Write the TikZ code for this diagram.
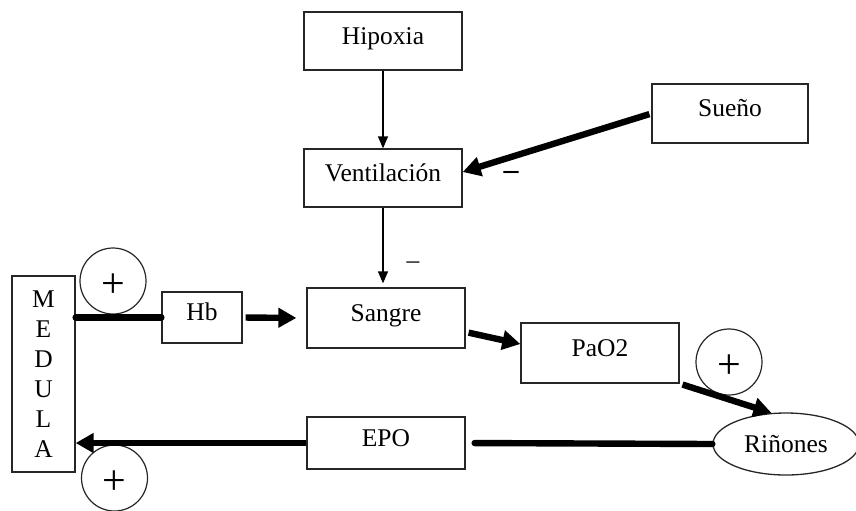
\documentclass[tikz,border=0pt]{standalone}
\usepackage{fontspec}
\setmainfont{Liberation Serif}
\usetikzlibrary{arrows.meta,shapes.geometric,calc}
\begin{document}
\begin{tikzpicture}[x=0.5pt,y=-0.5pt,
  font=\fontsize{12.75}{15}\selectfont,
  box/.style={draw=black!85, line width=0.65pt, inner sep=0pt, text height=8pt, text depth=4.6pt},
  thinarrow/.style={line width=0.65pt, -{Triangle[length=6pt,width=5pt]}},
  thickarrow/.style={line width=3.2pt, -{Triangle[length=9pt,width=9.5pt]}},
  thickline/.style={line width=3.2pt, line cap=round},
  pluscircle/.style={circle, draw=black!85, line width=0.6pt, minimum size=33pt, inner sep=0pt,
    font=\fontsize{21}{21}\selectfont, text height=16.5pt, text depth=0pt}
]
\useasboundingbox (0,0) rectangle (856,510);

\node[box, minimum width=79pt, minimum height=29pt] (hip) at (383,41) {Hipoxia};
\node[box, minimum width=78pt, minimum height=29.5pt] (sue) at (730,113.5) {Sueño};
\node[box, minimum width=79pt, minimum height=29pt] (ven) at (383,178) {Ventilación};
\node[box, minimum width=79pt, minimum height=30pt] (san) at (386,318) {Sangre};
\node[box, minimum width=40pt, minimum height=25.5pt] (hb) at (202,317.5) {Hb};
\node[draw=black!85, line width=0.65pt, inner sep=0pt, minimum width=31.5pt, minimum height=98pt, align=center] (med) at (43.5,374) {M\\E\\D\\U\\L\\A};
\node[box, minimum width=79pt, minimum height=30pt] (pao) at (600,353) {PaO2};
\node[box, minimum width=79pt, minimum height=26pt] (epo) at (386,443) {EPO};
\node[ellipse, draw=black!85, line width=0.65pt, inner sep=0pt, minimum width=73pt, minimum height=31pt] (rin) at (786,444) {Riñones};

\node[pluscircle] (c1) at (113,281) {+};
\node[pluscircle] (c2) at (114.5,478) {+};
\node[pluscircle] (c3) at (729,362) {+};

\node[inner sep=0pt, font=\fontsize{15}{15}\selectfont\bfseries] (m1) at (511,175) {–};
\node[inner sep=0pt] (m2) at (413,265) {–};

\draw[thinarrow] (hip.south) -- (ven.north);
\draw[thinarrow, shorten >=2pt] (ven.south) -- (ven.south |- san.north);
\draw[thickarrow, shorten <=1pt] (sue.west) -- ([yshift=3pt]ven.east);
\draw[thickline] (med.east |- hb.west) -- (hb.west);
\draw[thickarrow, shorten <=1.5pt, shorten >=5pt] (hb.east) -- (san.west);
\draw[thickarrow, shorten <=1.5pt] ([yshift=-7pt]san.east) -- ([yshift=4.5pt]pao.west);
\draw[thickarrow, shorten <=1.5pt] (pao.south east) -- (rin.115);
\draw[thickline, shorten <=4.5pt] (epo.east) -- (rin.west);
\draw[thickarrow] (epo.west) -- (epo.west -| med.east);
\end{tikzpicture}
\end{document}
